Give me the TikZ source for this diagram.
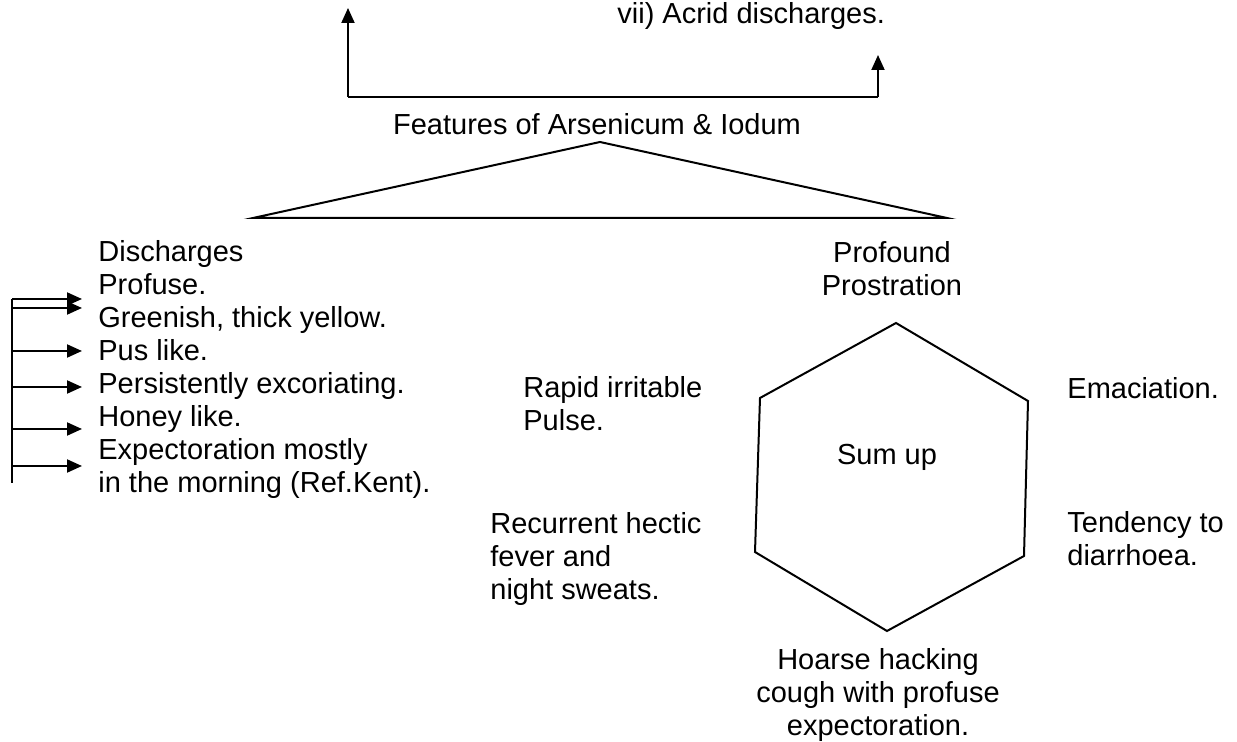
\documentclass[tikz,border=0pt]{standalone}
\usepackage{fontspec}
\setmainfont{Liberation Sans}
\usetikzlibrary{calc}
\usetikzlibrary{math}
\usetikzlibrary{arrows.meta}

\begin{document}
\begin{tikzpicture}[x=0.5pt, y=-0.5pt]
    \tikzmath {
        \lineH = 33;
        \txtX = 98;
        \arrX = 82;
        \barX = 12;
    }
    
    % base of a node with several lines is the base of its last line
    \tikzstyle{txt}=[inner sep=0, font=\fontsize{14.5}{16.5}\selectfont, align=left, anchor=base west]
    \tikzstyle{ctxt}=[inner sep=0, font=\fontsize{14.5}{16.5}\selectfont, align=center, anchor=base]
    \tikzstyle{ln}=[line width=1pt]
    \tikzstyle{arr}=[line width=1pt, -{Triangle[length=7.5pt, width=6.5pt]}]
    
    \useasboundingbox (0,0) rectangle (1237,742);
    
    % top bar
    \node[txt] (acrid) at (617,24) {vii) Acrid discharges.};
    \node[ctxt] (features) at (597,135) {Features of Arsenicum \& Iodum};
    
    \coordinate (bar_l) at (348,97);
    \coordinate (bar_r) at (878,97);
    \coordinate (bar_l_tip) at (348,8);
    \coordinate (bar_r_tip) at (878,55);
    \draw[ln] (bar_l) -- (bar_r);
    \draw[arr] (bar_l) -- (bar_l_tip);
    \draw[arr] (bar_r) -- (bar_r_tip);
    
    % triangle
    \coordinate (tri_top) at (600,142);
    \coordinate (tri_l) at (253,218);
    \coordinate (tri_r) at (947,218);
    \draw[ln] (tri_l) -- (tri_top) -- (tri_r) -- cycle;
    
    % discharges
    \node[txt] (dis) at (\txtX,262) {Discharges};
    \node[txt] (dis_profuse) at (\txtX,262+\lineH) {Profuse.};
    \node[txt] (dis_green) at (\txtX,262+2*\lineH) {Greenish, thick yellow.};
    \node[txt] (dis_pus) at (\txtX,262+3*\lineH) {Pus like.};
    \node[txt] (dis_excor) at (\txtX,262+4*\lineH) {Persistently excoriating.};
    \node[txt] (dis_honey) at (\txtX,262+5*\lineH) {Honey like.};
    \node[txt] (dis_expect) at (\txtX,262+7*\lineH) {Expectoration mostly\\in the morning (Ref.Kent).};
    
    \coordinate (dis_bar_top) at (\barX,299);
    \coordinate (dis_bar_bot) at (\barX,483);
    \draw[ln] (dis_bar_top) -- (dis_bar_bot);
    \foreach \n/\y in {1/299, 2/308, 3/351, 4/387, 5/429, 6/466} {
        \coordinate (dis_arr\n) at (\barX,\y);
        \coordinate (dis_tip\n) at (\arrX,\y);
        \draw[arr] (dis_arr\n) -- (dis_tip\n);
    }
    
    % sum up
    \node[ctxt] (prostration) at (892,263+\lineH) {Profound\\Prostration};
    
    \coordinate (hex_t) at (896,323);
    \coordinate (hex_tr) at (1028,401);
    \coordinate (hex_br) at (1024,556);
    \coordinate (hex_b) at (887,631);
    \coordinate (hex_bl) at (755,552);
    \coordinate (hex_tl) at (760,398);
    \draw[ln] (hex_t) -- (hex_tr) -- (hex_br) -- (hex_b) -- (hex_bl) -- (hex_tl) -- cycle;
    
    \node[ctxt] (sumup) at (887,465) {Sum up};
    
    \node[txt] (pulse) at (523,398+\lineH) {Rapid irritable\\Pulse.};
    \node[txt] (emaciation) at (1067,399) {Emaciation.};
    \node[txt] (fever) at (490,534+2*\lineH) {Recurrent hectic\\fever and\\night sweats.};
    \node[txt] (diarrhoea) at (1067,533+\lineH) {Tendency to\\diarrhoea.};
    \node[ctxt] (cough) at (878,669+2*\lineH) {Hoarse hacking\\cough with profuse\\expectoration.};
\end{tikzpicture}
\end{document}
